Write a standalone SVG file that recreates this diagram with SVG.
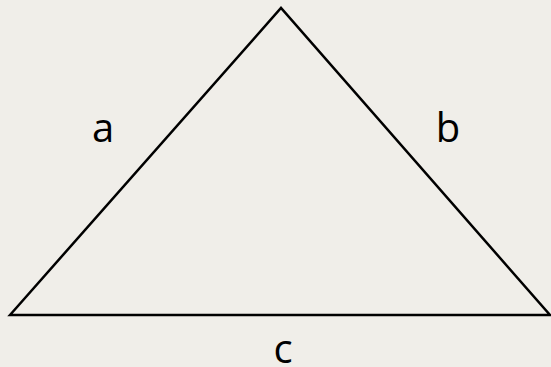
<svg xmlns="http://www.w3.org/2000/svg" width="551" height="367" viewBox="0 0 551 367">
<style>
.edge{fill:none;stroke:#000;stroke-width:2.5;stroke-linejoin:miter}
.lbl{font-family:"Open Sans","Noto Sans",sans-serif;font-size:40px;fill:#000;text-anchor:middle}
</style>
<rect width="551" height="367" fill="#f0eee9"/>
<g id="connectors">
<path class="edge" d="M10 315 L281 8 L550 315 Z"/>
</g>
<g id="label-a"><text class="lbl" x="103" y="142">a</text></g>
<g id="label-b"><text class="lbl" x="448" y="142">b</text></g>
<g id="label-c"><text class="lbl" x="283" y="363">c</text></g>
</svg>
